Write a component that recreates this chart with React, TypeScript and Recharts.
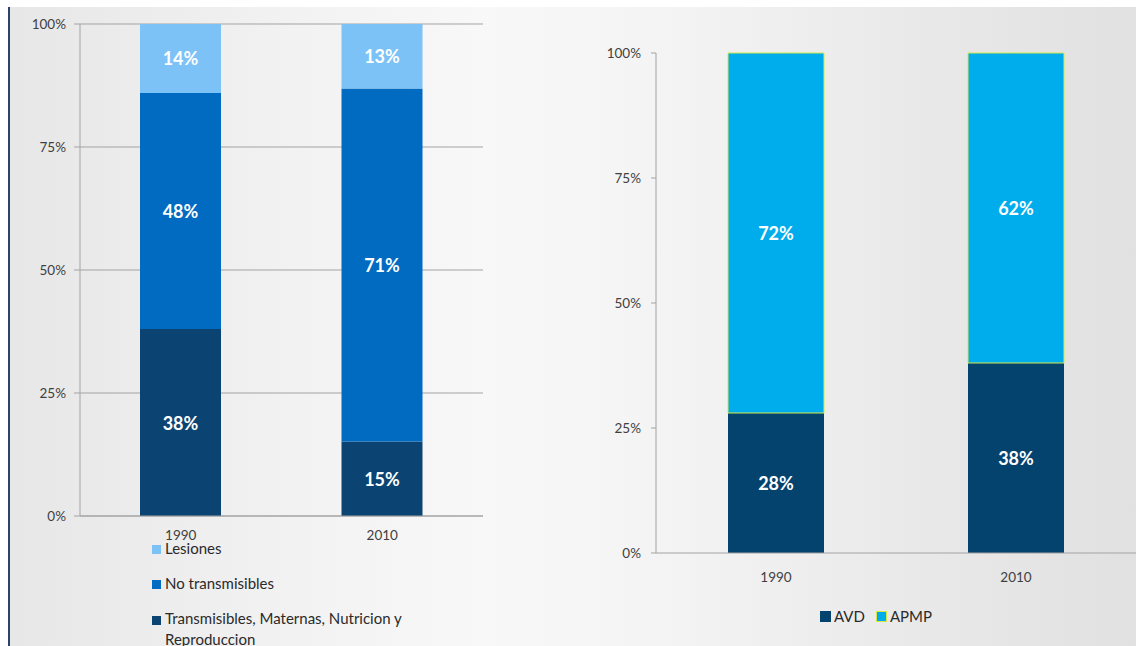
import React from 'react';
import { BarChart, Bar, XAxis, YAxis, CartesianGrid, Legend, LabelList } from 'recharts';

const leftYears = ['1990', '2010'];
const transmisibles = [38, 15];
const noTransmisibles = [48, 71];
const lesiones = [14, 13];

const rightYears = ['1990', '2010'];
const avd = [28, 38];
const apmp = [72, 62];

const pctTicks = [0, 0.25, 0.5, 0.75, 1];

const leftData = leftYears.map((y, i) => ({
  year: y,
  trans: transmisibles[i],
  noTrans: noTransmisibles[i],
  les: lesiones[i],
}));

const rightData = rightYears.map((y, i) => ({
  year: y,
  avd: avd[i],
  apmp: apmp[i],
}));

const FONT = 'Lato, "Open Sans", sans-serif';
const C_LES = '#7cc2f6';
const C_NOTRANS = '#006bc1';
const C_TRANS = '#0b4473';
const C_AVD = '#05436f';
const C_APMP = '#00adec';

const makeLabel = (data: any[], key: string) => (props: any) => {
  const { x, y, width, height, index } = props;
  const v = data[index][key];
  return (
    <text
      x={x + width / 2}
      y={y + height / 2}
      textAnchor="middle"
      dominantBaseline="central"
      fill="#ffffff"
      fontFamily={FONT}
      fontWeight={700}
      fontSize={18}
    >
      {`${v}%`}
    </text>
  );
};

const leftLegendItems = [
  { name: 'Lesiones', color: C_LES },
  { name: 'No transmisibles', color: C_NOTRANS },
  { name: 'Transmisibles, Maternas, Nutricion y Reproduccion', color: C_TRANS },
];

const LeftLegend = () => (
  <div style={{ fontFamily: FONT, fontSize: 15, color: '#2a2a2a' }}>
    {leftLegendItems.map((it, i) => (
      <div key={i} style={{ display: 'flex', alignItems: 'flex-start', height: i < 2 ? 35 : 44 }}>
        <div style={{ width: 9, height: 9, background: it.color, marginTop: i < 2 ? 4 : 5, marginRight: 4, flex: 'none' }} />
        <div style={{ width: 270, lineHeight: i < 2 ? '17px' : '21px', marginTop: i < 2 ? -1 : -3 }}>{it.name}</div>
      </div>
    ))}
  </div>
);

const rightLegendItems = [
  { name: 'AVD', color: C_AVD, border: C_AVD },
  { name: 'APMP', color: C_APMP, border: '#d4e84a' },
];

const RightLegend = () => (
  <div style={{ fontFamily: FONT, fontSize: 15, color: '#2a2a2a', display: 'flex', justifyContent: 'flex-start' }}>
    {rightLegendItems.map((it, i) => (
      <div key={i} style={{ display: 'flex', alignItems: 'center', marginRight: 11 }}>
        <div style={{ width: 9, height: 9, background: it.color, border: `1px solid ${it.border}`, marginRight: 3 }} />
        <span>{it.name}</span>
      </div>
    ))}
  </div>
);

const tickStyle = { fontFamily: FONT, fontSize: 13.5, fill: '#404040' };
const pctFmt = (v: number) => `${Math.round(v * 100)}%`;

export default function App() {
  return (
    <div style={{ position: 'absolute', left: 0, top: 0, width: 1136, height: 646, background: '#ffffff', overflow: 'hidden' }}>
      <div
        style={{
          position: 'absolute',
          left: 8,
          top: 7,
          width: 1128,
          height: 639,
          borderLeft: '2px solid #2b4170',
          background: 'linear-gradient(to right, #e7e7e7 0%, #f2f2f2 25%, #f8f8f8 42%, #f3f3f3 60%, #e9e9e9 80%, #e1e1e1 100%)',
        }}
      />
      <div style={{ position: 'absolute', left: 0, top: 0 }}>
        <BarChart
          width={490}
          height={646}
          data={leftData}
          stackOffset="expand"
          margin={{ top: 24, right: 7, left: 0, bottom: 0 }}
        >
          <CartesianGrid vertical={false} stroke="#a3a3a3" />
          <XAxis
            dataKey="year"
            height={130}
            tickLine={false}
            axisLine={{ stroke: '#a3a3a3' }}
            tick={tickStyle}
            tickMargin={8}
          />
          <YAxis
            width={80}
            domain={[0, 1]}
            ticks={pctTicks}
            tickFormatter={pctFmt}
            axisLine={{ stroke: '#a3a3a3' }}
            tickLine={{ stroke: '#a3a3a3' }}
            tickSize={6}
            tickMargin={8}
            tick={tickStyle}
          />
          <Legend
            layout="vertical"
            align="center"
            verticalAlign="middle"
            wrapperStyle={{ left: 152, top: 541, width: 320, height: 100 }}
            content={() => <LeftLegend />}
          />
          <Bar dataKey="trans" stackId="a" fill={C_TRANS} barSize={81} isAnimationActive={false}>
            <LabelList dataKey="trans" content={makeLabel(leftData, 'trans')} />
          </Bar>
          <Bar dataKey="noTrans" stackId="a" fill={C_NOTRANS} barSize={81} isAnimationActive={false}>
            <LabelList dataKey="noTrans" content={makeLabel(leftData, 'noTrans')} />
          </Bar>
          <Bar dataKey="les" stackId="a" fill={C_LES} barSize={81} isAnimationActive={false}>
            <LabelList dataKey="les" content={makeLabel(leftData, 'les')} />
          </Bar>
        </BarChart>
      </div>
      <div style={{ position: 'absolute', left: 570, top: 0 }}>
        <BarChart
          width={566}
          height={646}
          data={rightData}
          stackOffset="expand"
          margin={{ top: 53, right: 0, left: 0, bottom: 0 }}
        >
          <XAxis
            dataKey="year"
            height={93}
            tickLine={false}
            axisLine={{ stroke: '#a3a3a3' }}
            tick={tickStyle}
            tickMargin={13}
          />
          <YAxis
            width={86}
            domain={[0, 1]}
            ticks={pctTicks}
            tickFormatter={pctFmt}
            axisLine={{ stroke: '#a3a3a3' }}
            tickLine={{ stroke: '#a3a3a3' }}
            tickSize={5}
            tickMargin={10}
            tick={tickStyle}
          />
          <Legend
            layout="vertical"
            align="center"
            verticalAlign="middle"
            wrapperStyle={{ left: 250, top: 607, width: 160, height: 22 }}
            content={() => <RightLegend />}
          />
          <Bar dataKey="avd" stackId="b" fill={C_AVD} barSize={96} isAnimationActive={false}>
            <LabelList dataKey="avd" content={makeLabel(rightData, 'avd')} />
          </Bar>
          <Bar dataKey="apmp" stackId="b" fill={C_APMP} stroke="#d4e84a" strokeWidth={1} barSize={96} isAnimationActive={false}>
            <LabelList dataKey="apmp" content={makeLabel(rightData, 'apmp')} />
          </Bar>
        </BarChart>
      </div>
    </div>
  );
}
